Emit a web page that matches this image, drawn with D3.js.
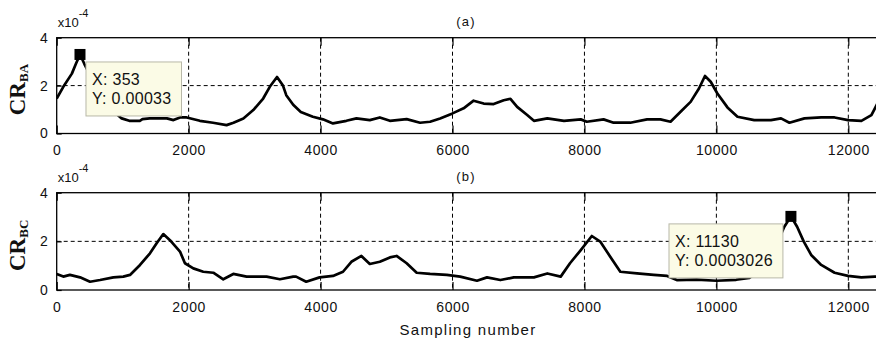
<!DOCTYPE html>
<html>
<head>
<meta charset="utf-8">
<script src="https://cdn.jsdelivr.net/npm/d3@7/dist/d3.min.js"></script>
<style>
  html, body { margin: 0; padding: 0; background: #fff; }
  svg { display: block; }
  text { font-family: Arial, "Liberation Sans", Helvetica, sans-serif; fill: #111; }
</style>
</head>
<body>
<svg id="chart" width="876" height="341"></svg>
<script>
// Sampling numbers and ratio values (in units of 1e-4) for each panel
const sampleA = [0, 100, 230, 290, 353, 420, 550, 700, 850, 985, 1100, 1260, 1300, 1410, 1670, 1770, 1870, 1970, 2170, 2370, 2575, 2680, 2830, 2980, 3130, 3230, 3340, 3430, 3480, 3585, 3700, 3883, 4036, 4188, 4391, 4543, 4746, 4898, 5051, 5305, 5508, 5660, 5812, 6000, 6168, 6320, 6472, 6624, 6777, 6878, 6980, 7132, 7234, 7437, 7690, 7944, 8036, 8290, 8442, 8695, 8949, 9152, 9305, 9457, 9609, 9736, 9827, 9914, 10015, 10168, 10320, 10574, 10827, 10980, 11107, 11335, 11589, 11792, 11995, 12198, 12350, 12441, 12500];
const valueA = [1.46, 1.95, 2.5, 2.9, 3.3, 2.9, 2.2, 1.5, 0.95, 0.63, 0.53, 0.53, 0.6, 0.63, 0.63, 0.56, 0.67, 0.67, 0.53, 0.45, 0.35, 0.45, 0.63, 0.98, 1.46, 1.95, 2.36, 2.0, 1.6, 1.2, 0.9, 0.7, 0.59, 0.42, 0.53, 0.63, 0.56, 0.67, 0.53, 0.6, 0.45, 0.49, 0.63, 0.84, 1.05, 1.37, 1.25, 1.23, 1.39, 1.45, 1.11, 0.77, 0.53, 0.63, 0.53, 0.59, 0.49, 0.59, 0.45, 0.45, 0.59, 0.59, 0.49, 0.91, 1.32, 1.88, 2.4, 2.16, 1.67, 1.09, 0.7, 0.56, 0.56, 0.63, 0.45, 0.63, 0.67, 0.67, 0.56, 0.53, 0.77, 1.25, 1.5];

const sampleB = [0, 100, 200, 354, 505, 657, 859, 1010, 1111, 1263, 1414, 1515, 1616, 1717, 1869, 1944, 2071, 2222, 2374, 2525, 2677, 2879, 3182, 3384, 3586, 3629, 3782, 3985, 4188, 4340, 4467, 4619, 4746, 4898, 5051, 5152, 5305, 5457, 5660, 5914, 6117, 6371, 6523, 6726, 6929, 7234, 7437, 7640, 7781, 7932, 8112, 8239, 8391, 8544, 8797, 9051, 9254, 9400, 9700, 10000, 10300, 10500, 10700, 10900, 11030, 11130, 11224, 11325, 11437, 11589, 11792, 11995, 12198, 12400, 12500];
const valueB = [0.66, 0.55, 0.62, 0.52, 0.34, 0.41, 0.52, 0.55, 0.62, 1.03, 1.51, 1.92, 2.3, 2.05, 1.58, 1.1, 0.89, 0.75, 0.71, 0.44, 0.66, 0.55, 0.55, 0.44, 0.55, 0.55, 0.34, 0.52, 0.58, 0.75, 1.16, 1.4, 1.07, 1.16, 1.34, 1.4, 1.1, 0.71, 0.66, 0.62, 0.55, 0.38, 0.52, 0.41, 0.52, 0.52, 0.68, 0.55, 1.1, 1.6, 2.22, 1.99, 1.37, 0.75, 0.68, 0.62, 0.58, 0.41, 0.43, 0.38, 0.42, 0.5, 0.9, 1.8, 2.6, 3.026, 2.6, 1.99, 1.44, 1.03, 0.71, 0.58, 0.52, 0.55, 0.55];

// Data-cursor points
const tipA = [353, 3.3];
const tipB = [11130, 3.026];

const xTicks = [0, 2000, 4000, 6000, 8000, 10000, 12000];
const yTicks = [0, 2, 4];
const panelTitles = ["(a)", "(b)"];
const yLabelSubs = ["BA", "BC"];
const xAxisTitle = "Sampling number";

const svg = d3.select("#chart");
svg.append("rect").attr("width", 876).attr("height", 341).attr("fill", "#fff");

const x = d3.scaleLinear().domain([0, 12500]).range([56.7, 881.3]);

const panels = [
  { top: 37.7, bottom: 133.5, sample: sampleA, value: valueA, tip: tipA, title: panelTitles[0], sub: yLabelSubs[0], tipSide: "right" },
  { top: 192.7, bottom: 290, sample: sampleB, value: valueB, tip: tipB, title: panelTitles[1], sub: yLabelSubs[1], tipSide: "left" }
];

panels.forEach((p, i) => {
  const y = d3.scaleLinear().domain([0, 4]).range([p.bottom, p.top]);
  const g = svg.append("g");
  const left = x.range()[0], right = x.range()[1];

  const clipId = "clip" + i;
  svg.append("clipPath").attr("id", clipId)
    .append("rect").attr("x", left).attr("y", p.top).attr("width", right - left).attr("height", p.bottom - p.top);

  // dashed grid
  g.append("g").selectAll("line").data(xTicks.slice(1)).join("line")
    .attr("x1", d => x(d)).attr("x2", d => x(d))
    .attr("y1", p.top).attr("y2", p.bottom)
    .attr("stroke", "#000").attr("stroke-width", 1).attr("stroke-dasharray", "4,3");
  g.append("g").selectAll("line").data(yTicks.slice(1, -1)).join("line")
    .attr("x1", left).attr("x2", right)
    .attr("y1", d => y(d)).attr("y2", d => y(d))
    .attr("stroke", "#000").attr("stroke-width", 1).attr("stroke-dasharray", "4,3");

  // axes with inward ticks
  const xAxis = d3.axisBottom(x).tickValues(xTicks).tickSizeInner(-8).tickSizeOuter(0).tickPadding(12).tickFormat(d3.format("d"));
  const gx = g.append("g").attr("transform", `translate(0,${p.bottom})`).call(xAxis);
  gx.select(".domain").remove();
  gx.selectAll("line").attr("stroke", "#000").attr("stroke-width", 1.2);
  gx.selectAll("text").attr("font-size", 14).attr("letter-spacing", 0.6).attr("fill", "#111")
    .attr("font-family", "Arial, 'Liberation Sans', sans-serif");

  const xTop = d3.axisTop(x).tickValues(xTicks).tickSizeInner(-8).tickSizeOuter(0).tickFormat("");
  const gxt = g.append("g").attr("transform", `translate(0,${p.top})`).call(xTop);
  gxt.select(".domain").remove();
  gxt.selectAll("line").attr("stroke", "#000").attr("stroke-width", 1.2);

  const yAxis = d3.axisLeft(y).tickValues(yTicks).tickSizeInner(-5).tickSizeOuter(0).tickPadding(9).tickFormat(d3.format("d"));
  const gy = g.append("g").attr("transform", `translate(${left},0)`).call(yAxis);
  gy.select(".domain").remove();
  gy.selectAll("line").attr("stroke", "#000").attr("stroke-width", 1.2);
  gy.selectAll("text").attr("font-size", 14).attr("fill", "#111")
    .attr("font-family", "Arial, 'Liberation Sans', sans-serif");

  // frame
  g.append("rect").attr("x", left).attr("y", p.top).attr("width", right - left).attr("height", p.bottom - p.top)
    .attr("fill", "none").attr("stroke", "#000").attr("stroke-width", 1.3);

  // series line
  const pts = p.sample.map((s, k) => [s, p.value[k]]);
  const line = d3.line().x(d => x(d[0])).y(d => y(d[1]));
  g.append("path").datum(pts).attr("d", line)
    .attr("clip-path", `url(#${clipId})`)
    .attr("fill", "none").attr("stroke", "#000").attr("stroke-width", 2.7)
    .attr("stroke-linejoin", "round");

  // exponent note
  const ex = g.append("text").attr("x", left + 1).attr("y", p.top - 11).attr("font-size", 13);
  ex.append("tspan").text("x10");
  ex.append("tspan").attr("dy", -10).attr("font-size", 11).text("-4");

  // panel title
  g.append("text").attr("x", 466).attr("y", p.top - 12).attr("text-anchor", "middle")
    .attr("font-size", 13).attr("letter-spacing", 1.2).text(p.title);

  // y label CR with subscript
  const cy = (p.top + p.bottom) / 2 + 4;
  const yl = g.append("text").attr("transform", `translate(25,${cy}) rotate(-90)`)
    .attr("text-anchor", "middle")
    .style("font-family", "'Liberation Serif', 'Times New Roman', serif")
    .attr("font-weight", "bold");
  yl.append("tspan").attr("font-size", 23).text("CR");
  yl.append("tspan").attr("font-size", 13).attr("dy", 3).text(p.sub);

  // data cursor marker and tip box
  const mx = x(p.tip[0]), my = y(p.tip[1]);
  g.append("rect").attr("x", mx - 5.5).attr("y", my - 5.5).attr("width", 11).attr("height", 11).attr("fill", "#000");

  const yText = "Y: " + parseFloat((p.tip[1] * 1e-4).toPrecision(4));
  const xText = "X: " + p.tip[0];
  const tg = g.append("g");
  const box = tg.append("rect").attr("fill", "#fbfbe6").attr("stroke", "#b8b8a8").attr("stroke-width", 1);
  const t1 = tg.append("text").attr("font-size", 16).attr("letter-spacing", 0.3).attr("fill", "#333").text(xText);
  const t2 = tg.append("text").attr("font-size", 16).attr("letter-spacing", 0.3).attr("fill", "#333").text(yText);
  const w = Math.max(t1.node().getComputedTextLength(), t2.node().getComputedTextLength()) + 16;
  const h = 54;
  const bx = p.tipSide === "right" ? mx + 6 : mx - 8 - w;
  const by = my + 7.5;
  box.attr("x", bx).attr("y", by).attr("width", w).attr("height", h);
  t1.attr("x", bx + 6).attr("y", by + 23);
  t2.attr("x", bx + 6).attr("y", by + 42);
});

// shared x-axis title
svg.append("text").attr("x", 468).attr("y", 335).attr("text-anchor", "middle")
  .attr("font-size", 15).attr("letter-spacing", 1.3).text(xAxisTitle);
</script>
</body>
</html>
